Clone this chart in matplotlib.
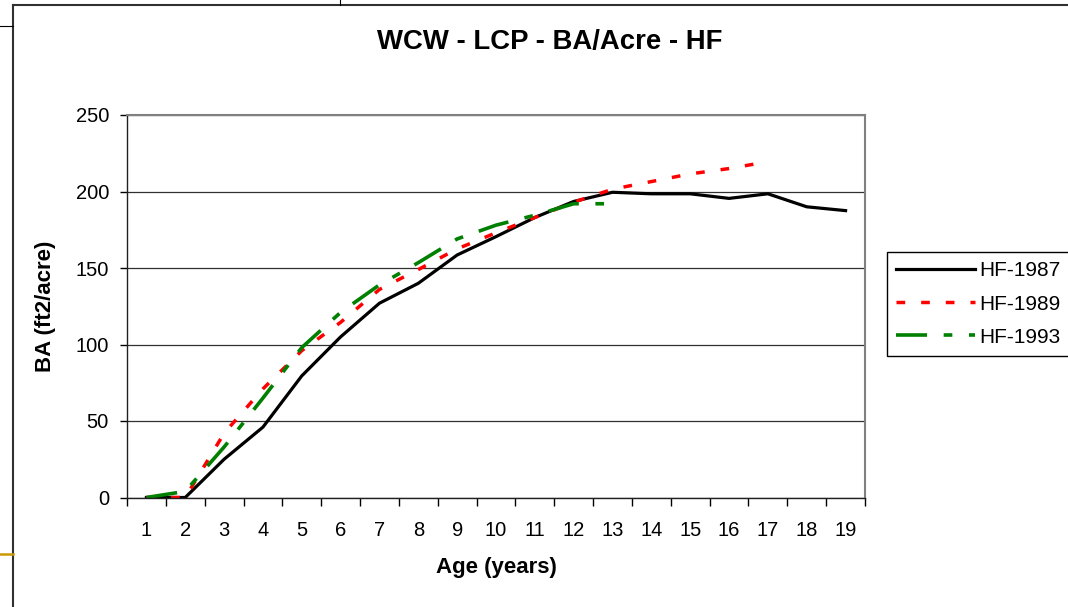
import matplotlib.pyplot as plt
from matplotlib.lines import Line2D

plt.rcParams['font.family'] = ['Liberation Sans', 'DejaVu Sans']

ages = list(range(1, 20))
hf_1987 = [0, 0, 25, 46, 79.5, 105, 127, 140, 158.5, 170.5, 183, 193.5,
           199.5, 198.5, 198.5, 195.5, 198.5, 190, 187.5]
hf_1989 = [0, 0, 42, 71, 96, 114.5, 136, 149, 162.5, 173, 183, 193,
           201.5, 206.5, 211.5, 215, 219.5]
hf_1993 = [0, 4, 33, 65, 98, 121, 139, 153.5, 169, 178, 184.5, 192, 192]

fig = plt.figure(figsize=(10.68, 6.07), dpi=100)
ax = fig.add_axes([127 / 1068, 1 - 497.5 / 607, 738 / 1068, 382.5 / 607])

ax.plot(ages[:len(hf_1987)], hf_1987, color='black', lw=2.3,
        solid_joinstyle='miter', label='HF-1987')
ax.plot(ages[:len(hf_1989)], hf_1989, color='#ff0000', lw=2.5,
        dashes=(2.5, 4.6), label='HF-1989')
ax.plot(ages[:len(hf_1993)], hf_1993, color='#008000', lw=2.6,
        dashes=(8.6, 4.6, 2.4, 4.6), label='HF-1993')

ax.set_xlim(0.5, 19.5)
ax.set_ylim(0, 250)
ax.set_yticks([0, 50, 100, 150, 200, 250])
ax.set_xticks(ages)
ax.set_xticks([a + 0.5 for a in range(0, 20)], minor=True)

ax.grid(axis='y', color='#303030', lw=0.9)
ax.set_axisbelow(True)
for side in ('top', 'right'):
    ax.spines[side].set_color('#808080')
    ax.spines[side].set_linewidth(1.5)
for side in ('left', 'bottom'):
    ax.spines[side].set_color('#202020')
    ax.spines[side].set_linewidth(1.0)

ax.tick_params(axis='x', which='major', length=0, pad=17, labelsize=14.5)
ax.tick_params(axis='x', which='minor', length=6, width=1, direction='out')
ax.tick_params(axis='y', length=5, width=1, direction='out', pad=8,
               labelsize=14.5)

# the title is centred on the whole chart, legend included
fig.text(550 / 1068, 1 - 42 / 607, 'WCW - LCP - BA/Acre - HF', fontsize=19.8,
         fontweight='bold', ha='center', va='center')
ax.set_xlabel('Age (years)', fontsize=16, fontweight='bold', labelpad=12)
ax.set_ylabel('BA (ft2/acre)', fontsize=16, fontweight='bold', labelpad=14)

leg = fig.legend(loc='upper left', bbox_to_anchor=(887 / 1068, 1 - 252 / 607),
                 borderaxespad=0, fontsize=15, handlelength=3.75,
                 handletextpad=0.25, borderpad=0.45, labelspacing=0.68,
                 fancybox=False, edgecolor='black', framealpha=1)
leg.get_frame().set_linewidth(1.0)

# slide frame around the chart
def fig_line(xs, ys, **kw):
    fig.add_artist(Line2D([x / 1068 for x in xs], [1 - y / 607 for y in ys],
                          transform=fig.transFigure, **kw))

fig_line([13, 13], [5, 607], color='#303030', lw=1.5)
fig_line([13, 1068], [5, 5], color='#303030', lw=1.5)
fig_line([0, 13], [26, 26], color='black', lw=0.8)
fig_line([340, 340], [0, 5], color='black', lw=0.8)
fig_line([0, 13], [554, 554], color='#cc9900', lw=1.8)

fig.savefig('out.png', dpi=100)
